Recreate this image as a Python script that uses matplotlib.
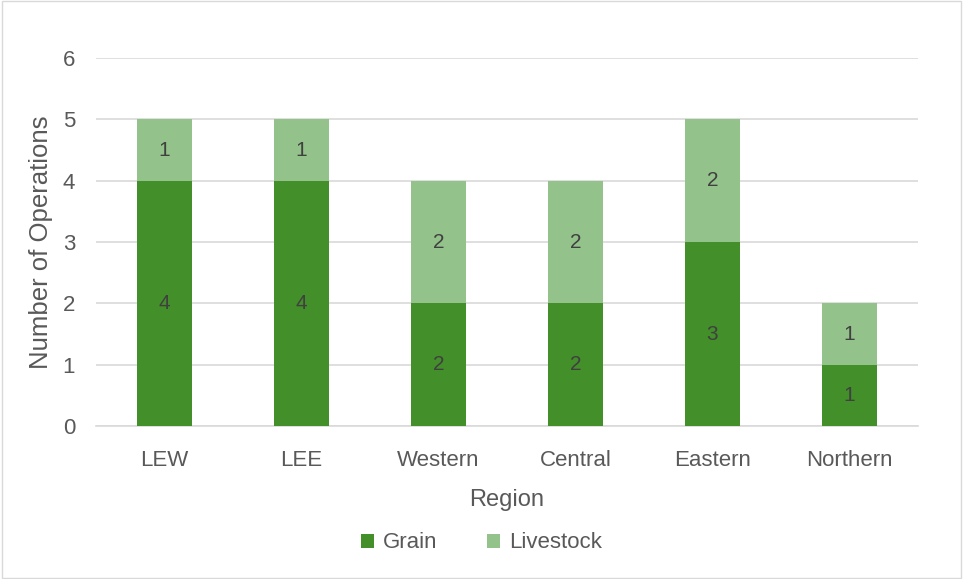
import matplotlib
matplotlib.use('Agg')
import matplotlib.pyplot as plt
import matplotlib.patches as patches
import numpy as np

regions = ['LEW', 'LEE', 'Western', 'Central', 'Eastern', 'Northern']
grain = [4, 4, 2, 2, 3, 1]
livestock = [1, 1, 2, 2, 2, 1]

grain_col = '#43902A'
live_col = '#93C38A'
txt = '#595959'

plt.rcParams['font.family'] = ['Liberation Sans', 'DejaVu Sans']

fig = plt.figure(figsize=(9.63, 5.79), dpi=100)
ax = fig.add_axes([0.0997, 0.2642, 0.8533, 0.6356])

x = np.arange(len(regions))
b1 = ax.bar(x, grain, width=0.4, color=grain_col, label='Grain', zorder=3)
b2 = ax.bar(x, livestock, width=0.4, bottom=grain, color=live_col, label='Livestock', zorder=3)

for rect, v in zip(b1, grain):
    ax.text(rect.get_x() + rect.get_width() / 2, rect.get_y() + rect.get_height() / 2, str(v),
            ha='center', va='center', fontsize=15, color='#404040', zorder=4)
for rect, v in zip(b2, livestock):
    ax.text(rect.get_x() + rect.get_width() / 2, rect.get_y() + rect.get_height() / 2, str(v),
            ha='center', va='center', fontsize=15, color='#404040', zorder=4)

ax.set_xlim(-0.5, len(regions) - 0.5)
ax.set_ylim(0, 6)
ax.set_yticks(range(7))
ax.set_xticks(x)
ax.set_xticklabels(regions)
ax.yaxis.grid(True, color='#D9D9D9', linewidth=1.2, zorder=0)
ax.tick_params(axis='both', length=0, labelsize=16, labelcolor=txt)
ax.tick_params(axis='y', pad=15)
ax.tick_params(axis='x', pad=17)
for s in ax.spines.values():
    s.set_visible(False)
ax.spines['bottom'].set_visible(True)
ax.spines['bottom'].set_color('#D9D9D9')
ax.spines['bottom'].set_linewidth(1.2)

ax.set_xlabel('Region', fontsize=17, color=txt, labelpad=13)
ax.set_ylabel('Number of Operations', fontsize=18.5, color=txt, labelpad=7)

fig.legend(handles=[b1, b2], labels=['Grain', 'Livestock'], loc='center',
           bbox_to_anchor=(0.5, 1 - 543 / 579), ncol=2, frameon=False,
           fontsize=16, labelcolor=txt, handlelength=0.6, handleheight=0.6,
           columnspacing=2.2, handletextpad=0.4)

fig.patches.append(patches.Rectangle((0.002, 0.002), 0.996, 0.996, transform=fig.transFigure,
                                     fill=False, edgecolor='#D9D9D9', linewidth=1))

fig.savefig('out.png', dpi=100)
